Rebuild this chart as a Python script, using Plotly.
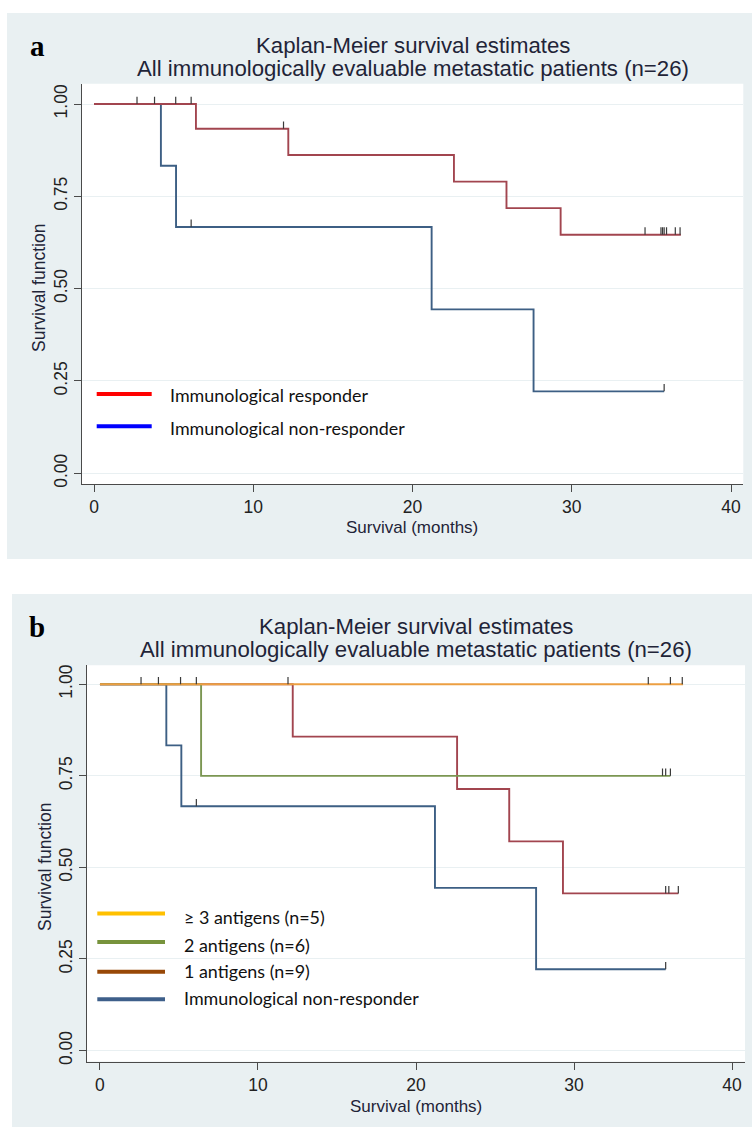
import plotly.graph_objects as go
import numpy as np

W, H = 752, 1134

# ---------------- data ----------------
# Panel a
a_resp_time = [0, 6.4, 12.2, 22.6, 25.9, 29.3, 36.85]
a_resp_surv = [1.0, 0.933, 0.862, 0.790, 0.718, 0.646, 0.646]
a_resp_cens = [2.7, 3.8, 5.13, 6.1, 11.9, 34.6, 35.6, 35.7, 35.8, 35.95, 36.5, 36.8]

a_non_time = [0, 4.2, 5.15, 21.2, 27.6, 35.8]
a_non_surv = [1.0, 0.833, 0.667, 0.444, 0.222, 0.222]
a_non_cens = [6.1, 35.8]

# Panel b
b_non_time = [0, 4.2, 5.15, 21.2, 27.6, 35.8]
b_non_surv = [1.0, 0.833, 0.667, 0.444, 0.222, 0.222]
b_non_cens = [6.1, 35.8]

b_one_time = [0, 12.2, 22.6, 25.9, 29.3, 36.6]
b_one_surv = [1.0, 0.857, 0.714, 0.571, 0.429, 0.429]
b_one_cens = [3.7, 11.9, 35.8, 36.0, 36.6]

b_two_time = [0, 6.4, 36.1]
b_two_surv = [1.0, 0.75, 0.75]
b_two_cens = [5.1, 6.1, 35.6, 35.8, 36.1]

b_three_time = [0, 36.9]
b_three_surv = [1.0, 1.0]
b_three_cens = [2.6, 34.7, 36.1, 36.85]

y_ticks = [0, 0.25, 0.5, 0.75, 1.0]
x_ticks = [0, 10, 20, 30, 40]

title1 = "Kaplan-Meier survival estimates"
title2 = "All immunologically evaluable metastatic patients (n=26)"
legend_a = ["Immunological responder", "Immunological non-responder"]
legend_b = ["\u2265 3 antigens (n=5)", "2 antigens (n=6)", "1 antigens (n=9)",
            "Immunological non-responder"]

# ---------------- styles ----------------
BG = "#e9f0f2"
C_NAVY = "#3d5f84"
C_MAROON = "#a2454f"
C_GREEN = "#7b9652"
C_ORANGE = "#ec9f42"
LEG_A = ["#ff0000", "#0000ff"]
LEG_B = ["#ffc000", "#77933c", "#984807", "#3e5f8a"]
TXT = "#1f2438"
SANS = "Liberation Sans, Arial, sans-serif"
LEGF = "Lato, Carlito, Calibri, sans-serif"


def px(x):
    return x / W


def py(y):
    return 1 - y / H


def step_at(times, surv, t):
    idx = np.searchsorted(np.array(times), t, side="right") - 1
    return surv[max(idx, 0)]


fig = go.Figure()


def add_curve(times, surv, color, xa, ya):
    fig.add_trace(go.Scatter(x=times, y=surv, mode="lines", line_shape="hv",
                             line=dict(color=color, width=1.9),
                             xaxis=xa, yaxis=ya, hoverinfo="skip", showlegend=False))


def add_censors(times, surv, cens, xa, ya):
    xs, ys = [], []
    for t in cens:
        s = step_at(times, surv, t)
        xs += [t, t, None]
        ys += [s, s + 0.02, None]
    fig.add_trace(go.Scatter(x=xs, y=ys, mode="lines",
                             line=dict(color="#3a3a3a", width=1.2),
                             xaxis=xa, yaxis=ya, hoverinfo="skip", showlegend=False))


# panel a
add_curve(a_non_time, a_non_surv, C_NAVY, "x", "y")
add_curve(a_resp_time, a_resp_surv, C_MAROON, "x", "y")
add_censors(a_non_time, a_non_surv, a_non_cens, "x", "y")
add_censors(a_resp_time, a_resp_surv, a_resp_cens, "x", "y")

# panel b
add_curve(b_non_time, b_non_surv, C_NAVY, "x2", "y2")
add_curve(b_one_time, b_one_surv, C_MAROON, "x2", "y2")
add_curve(b_two_time, b_two_surv, C_GREEN, "x2", "y2")
add_curve(b_three_time, b_three_surv, C_ORANGE, "x2", "y2")
add_censors(b_non_time, b_non_surv, b_non_cens, "x2", "y2")
add_censors(b_one_time, b_one_surv, b_one_cens, "x2", "y2")
add_censors(b_two_time, b_two_surv, b_two_cens, "x2", "y2")
add_censors(b_three_time, b_three_surv, b_three_cens, "x2", "y2")

axis_common = dict(showline=True, linecolor="#4a4a4a", linewidth=1.3,
                   ticks="outside", ticklen=7, tickcolor="#4a4a4a", tickwidth=1.3,
                   tickfont=dict(family=SANS, size=17.5, color="#222"),
                   zeroline=False, fixedrange=True)

fig.update_layout(
    width=W, height=H,
    margin=dict(l=0, r=0, t=0, b=0),
    paper_bgcolor="white",
    plot_bgcolor="white",
    showlegend=False,
    xaxis=dict(domain=[px(82), px(743.3)], range=[-0.754, 40.77], anchor="y",
               tickvals=x_ticks, showgrid=False, **axis_common),
    yaxis=dict(domain=[py(485), py(83)], range=[-0.0297, 1.055], anchor="x",
               tickvals=y_ticks, tickformat=".2f", tickangle=-90,
               showgrid=True, gridcolor=BG, gridwidth=1.2, **axis_common),
    xaxis2=dict(domain=[px(87), px(745)], range=[-0.82, 40.82], anchor="y2",
                tickvals=x_ticks, showgrid=False, **axis_common),
    yaxis2=dict(domain=[py(1064.3), py(666.7)], range=[-0.03, 1.0516], anchor="x2",
                tickvals=y_ticks, tickformat=".2f", tickangle=-90,
                showgrid=True, gridcolor=BG, gridwidth=1.2, **axis_common),
)

shapes = [
    dict(type="rect", xref="paper", yref="paper", x0=px(7), x1=1.0, y0=py(560), y1=py(12),
         fillcolor=BG, line_width=0, layer="below"),
    dict(type="rect", xref="paper", yref="paper", x0=px(12), x1=1.0, y0=py(1130), y1=py(595),
         fillcolor=BG, line_width=0, layer="below"),
    dict(type="rect", xref="x domain", yref="y domain", x0=0, x1=1, y0=0, y1=1,
         fillcolor="white", line_width=0, layer="below"),
    dict(type="rect", xref="x2 domain", yref="y2 domain", x0=0, x1=1, y0=0, y1=1,
         fillcolor="white", line_width=0, layer="below"),
]

annotations = []


def text(x, y, s, size, family=SANS, color=TXT, xanchor="center", angle=0, bold=False):
    annotations.append(dict(x=px(x), y=py(y), xref="paper", yref="paper", text=("<b>%s</b>" % s) if bold else s,
                            showarrow=False, xanchor=xanchor, yanchor="middle", textangle=angle,
                            borderpad=0,
                            font=dict(family=family, size=size, color=color)))


# panel a texts
text(37, 45, "a", 29, family="Liberation Serif, Times New Roman, serif", color="black", bold=True)
text(413, 45, title1, 22.2)
text(413, 68, title2, 22.2)
text(412, 528, "Survival (months)", 17)
text(39, 288, "Survival function", 17.5, angle=-90)

# panel b texts
text(37, 628, "b", 29, family="Liberation Serif, Times New Roman, serif", color="black", bold=True)
text(416, 628, title1, 22.2)
text(416, 651, title2, 22.2)
text(416, 1109.5, "Survival (months)", 17)
text(45, 869, "Survival function", 17.5, angle=-90)

# legends
for lab, col, ly, ty in zip(legend_a, LEG_A, [394.3, 426.7], [395.5, 428.5]):
    shapes.append(dict(type="line", xref="paper", yref="paper", x0=px(96.7), x1=px(151.7),
                       y0=py(ly), y1=py(ly), line=dict(color=col, width=4)))
    text(169, ty, lab, 17.9, family=LEGF, color="#111", xanchor="left")

for lab, col, ly, ty in zip(legend_b, LEG_B, [915.7, 944.3, 974.3, 1001.7], [919, 947, 973.5, 1000.5]):
    shapes.append(dict(type="line", xref="paper", yref="paper", x0=px(97.3), x1=px(165),
                       y0=py(ly), y1=py(ly), line=dict(color=col, width=4)))
    text(182.7, ty, lab, 17.9, family=LEGF, color="#111", xanchor="left")

fig.update_layout(shapes=shapes, annotations=annotations)

fig.write_html("out.html", config={"displayModeBar": False},
               post_script="document.body.style.margin='0px';document.body.style.overflow='hidden';")
